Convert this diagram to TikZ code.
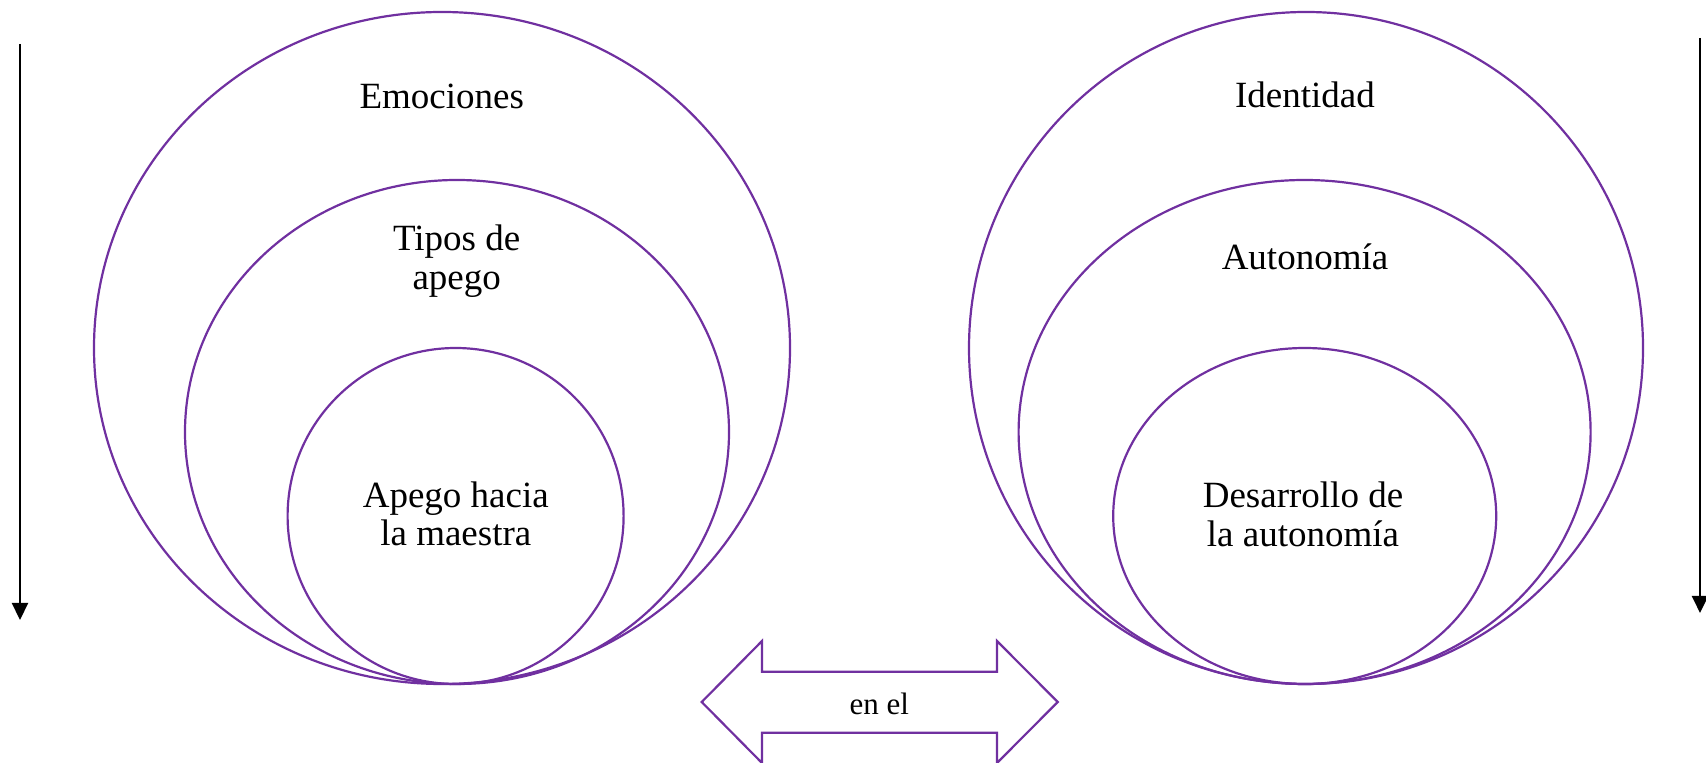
\documentclass[tikz,border=0pt]{standalone}
\usepackage{fontspec}
\setmainfont{Liberation Serif}
\usepackage{tikz}
\usetikzlibrary{arrows.meta}
\definecolor{morado}{HTML}{7030A0}

\begin{document}
\begin{tikzpicture}[x=0.5pt, y=-0.5pt,
  circulo/.style = {draw=morado, line width=1.1pt},
  etiqueta/.style = {anchor=base, align=center, inner sep=0pt, font=\fontsize{18.5}{19.5}\selectfont},
  flecha/.style = {-{Triangle[width=8pt, length=8.5pt]}, line width=1.1pt}]
\useasboundingbox (0,0) rectangle (1706,763);

\draw [circulo] (442,348) ellipse [x radius=348, y radius=336];

\draw [circulo] (457,432) ellipse [x radius=272, y radius=252];

\draw [circulo] (455.6,516) ellipse [x radius=168, y radius=168];

\draw [circulo] (1306,348) ellipse [x radius=337, y radius=336];

\draw [circulo] (1304.6,432) ellipse [x radius=286, y radius=252];

\draw [circulo] (1304.7,516) ellipse [x radius=191.5, y radius=168];

\node (Emociones) at (441.7,108.3) [etiqueta] {Emociones};

\node (Tipos) at (456.7,289.3) [etiqueta] {Tipos de\\apego};

\node (Apego) at (455.8,546) [etiqueta] {Apego hacia\\la maestra};

\node (Identidad) at (1305,107.3) [etiqueta] {Identidad};

\node (Autonomia) at (1305,270) [etiqueta] {Autonomía};

\node (Desarrollo) at (1303,547) [etiqueta] {Desarrollo de\\la autonomía};

\draw [circulo, line join=miter]
  (701.7,702) -- (762,641) -- (762,671.7) -- (997,671.7) -- (997,641)
  -- (1057.7,702) -- (997,763) -- (997,732.7) -- (762,732.7) -- (762,763) -- cycle;

\node (enel) at (879.3,714) [etiqueta, font=\fontsize{15.5}{17}\selectfont] {en el};

\coordinate (IzqArriba) at (20,44);
\coordinate (IzqAbajo) at (20,620);
\coordinate (DerArriba) at (1700,38);
\coordinate (DerAbajo) at (1700,613);

\draw [flecha] (IzqArriba) -- (IzqAbajo);
\draw [flecha] (DerArriba) -- (DerAbajo);
\end{tikzpicture}
\end{document}
